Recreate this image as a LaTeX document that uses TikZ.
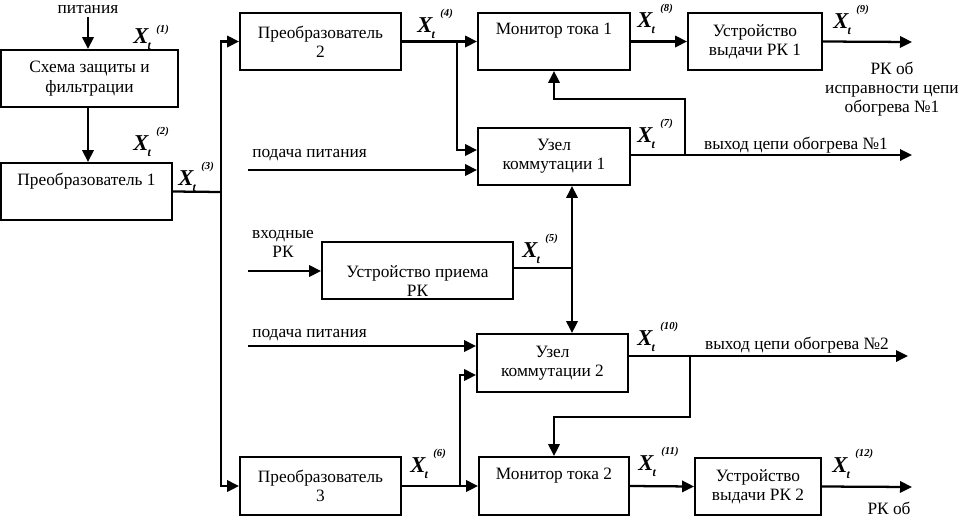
\documentclass[tikz,border=0pt]{standalone}
\usepackage{fontspec}
\setmainfont{Liberation Serif}
\usetikzlibrary{arrows.meta}

\newcommand{\xt}[2][12pt]{{\fontsize{17}{17}\selectfont\bfseries\itshape X}\kern-0.5pt\raisebox{-4.5pt}{\fontsize{9}{9}\selectfont\bfseries\itshape t}\kern4pt\raisebox{#1}{\fontsize{8}{8}\selectfont\bfseries\itshape (#2)}}

\begin{document}
\begin{tikzpicture}[x=0.75pt,y=-0.75pt,font=\fontsize{13}{14.5}\selectfont,
	blok/.style={draw,line width=1.4pt,align=center,inner sep=1pt,minimum height=42.75pt},
	strelka/.style={line width=1.7pt,-{Triangle[length=9pt,width=8.5pt]}},
	linia/.style={line width=1.7pt},
	podpis/.style={inner sep=0pt,align=center}]
	\useasboundingbox (0,0) rectangle (962,518);
	
	% bloki
	\node[blok,minimum width=132.75pt] (shema) at (89.5,78.5) {Схема защиты и\\фильтрации};
	\node[blok,minimum width=128.25pt] (preob1) at (86.5,191.5) {Преобразователь 1\\\strut};
	\node[blok,minimum width=120.75pt] (preob2) at (320.5,41.5) {Преобразователь\\2};
	\node[blok,minimum width=114pt] (mon1) at (554,41.5) {Монитор тока 1\\\strut};
	\node[blok,minimum width=100.5pt] (vyd1) at (755,41.5) {Устройство\\выдачи РК 1};
	\node[blok,minimum width=114pt] (uzel1) at (554,156.5) {Узел\\коммутации 1};
	\node[blok,minimum width=143.25pt] (priem) at (417.5,270.5) {\strut\\Устройство приема\\РК};
	\node[blok,minimum width=113.25pt,minimum height=43.5pt] (uzel2) at (552.5,363) {Узел\\коммутации 2};
	\node[blok,minimum width=120.75pt,minimum height=43.5pt] (preob3) at (320.5,486) {Преобразователь\\3};
	\node[blok,minimum width=112.5pt,minimum height=43.5pt] (mon2) at (554,486) {Монитор тока 2\\\strut};
	\node[blok,minimum width=94.5pt] (vyd2) at (758,486.5) {Устройство\\выдачи РК 2};
	
	% tochki
	\coordinate (pit) at (88,17);
	\coordinate (shina) at (221,192);
	\coordinate (r1) at (457,42);
	\coordinate (r1n) at (457,150);
	\coordinate (pod1) at (248,170);
	\coordinate (vyh1) at (912,155);
	\coordinate (o1) at (685,155);
	\coordinate (o1v) at (685,99);
	\coordinate (vrk) at (248,271);
	\coordinate (kom) at (572,268);
	\coordinate (pod2) at (248,346);
	\coordinate (r2) at (460,487);
	\coordinate (r2v) at (460,375);
	\coordinate (vyh2) at (908,356);
	\coordinate (o2) at (690,356);
	\coordinate (o2n) at (690,417);
	\coordinate (rk1) at (912,42);
	\coordinate (rk2) at (912,487);
	
	% svyazi
	\draw[strelka] (pit) -- (pit |- shema.north);
	\draw[strelka] (pit |- shema.south) -- (pit |- preob1.north);
	\draw[linia] (preob1.east) -- (shina);
	\draw[strelka] (shina) |- (preob2.west);
	\draw[strelka] (shina) |- (preob3.west);
	\draw[strelka] (preob2.east) -- (mon1.west);
	\draw[strelka] (r1) -- (r1n) -- (r1n -| uzel1.west);
	\draw[strelka] (pod1) -- (pod1 -| uzel1.west);
	\draw[strelka] (uzel1.east |- vyh1) -- (vyh1);
	\draw[strelka] (o1) -- (o1v) -| (mon1.south);
	\draw[strelka] (mon1.east) -- (vyd1.west);
	\draw[strelka] (vyd1.east) -- (rk1);
	\draw[strelka] (vrk) -- (vrk -| priem.west);
	\draw[linia] (priem.east |- kom) -- (kom);
	\draw[strelka] (kom) -- (kom |- uzel1.south);
	\draw[strelka] (kom) -- (kom |- uzel2.north);
	\draw[strelka] (pod2) -- (pod2 -| uzel2.west);
	\draw[strelka] (preob3.east) -- (mon2.west);
	\draw[strelka] (r2) -- (r2v) -- (r2v -| uzel2.west);
	\draw[strelka] (uzel2.east |- vyh2) -- (vyh2);
	\draw[strelka] (o2) -- (o2n) -| (mon2.north);
	\draw[strelka] (mon2.east) -- (vyd2.west);
	\draw[strelka] (vyd2.east) -- (rk2);
	
	% oboznacheniya
	\node[anchor=base west,inner sep=0pt] (x1) at (133,43) {\xt[8pt]{1}};
	\foreach \nom/\x/\y in {2/133/150,3/178/185,4/417/32,5/522/257,6/410/472,7/637/142,8/637/27,9/833/28,10/637/345,11/638/470,12/832/472}
		\node[anchor=base west,inner sep=0pt] (x\nom) at (\x,\y) {\xt{\nom}};
	
	% nadpisi
	\node[podpis,anchor=base] (tpit) at (88,13) {питания};
	\node[podpis,anchor=base west] (tpod1) at (252,157) {подача питания};
	\node[podpis,anchor=base west] (tpod2) at (252,337) {подача питания};
	\node[podpis] (tvrk) at (283,244) {входные\\РК};
	\node[podpis,anchor=base] (tvyh1) at (796,149) {выход цепи обогрева №1};
	\node[podpis,anchor=base] (tvyh2) at (797,349) {выход цепи обогрева №2};
	\node[podpis] (trk1) at (892,89) {РК об\\исправности цепи\\обогрева №1};
	\node[podpis,anchor=base] (trk2) at (889,514) {РК об};
\end{tikzpicture}
\end{document}
